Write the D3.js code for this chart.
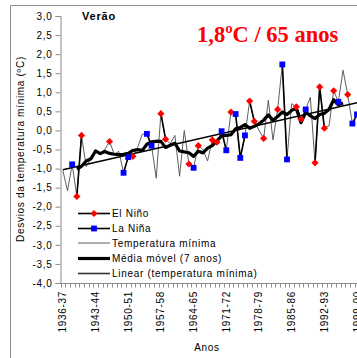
<!DOCTYPE html>
<html>
<head>
<meta charset="utf-8">
<script src="https://cdnjs.cloudflare.com/ajax/libs/d3/7.8.5/d3.min.js"></script>
<style>
    body { margin: 0; overflow: hidden; background: #fff; }
    svg  { display: block; font-family: Arial, "Liberation Sans", sans-serif; }
    .xl  { font-size: 10px; letter-spacing: 0.7px; fill: #000; }
</style>
</head>
<body>
<div id="chart"></div>
<script>
'use strict';

// summer seasons 1936-37 .. 1999-00
var startYears = d3.range(1936, 2000);
var seasons = startYears.map(function (y) {
    return y + '-' + String((y + 1) % 100).padStart(2, '0');
});

// deviations of the summer minimum temperature (ºC)
var tmin = [
    -1.05, -1.58, -0.89, -1.73, -0.13, -0.95, -0.75, -0.55, -0.60, -0.50,
    -0.29, -0.62, -0.55, -1.11, -0.70, -0.68, -0.45, -0.10, -0.09, -0.40,
    -1.25,  0.44, -0.23, -0.35, -0.13, -1.20,  0.00, -0.88, -0.98, -0.40,
    -0.50, -0.80, -0.25, -0.31, -0.02, -0.52,  0.48,  0.43, -0.72, -0.13,
     0.77,  0.24,  0.00, -0.21,  0.79, -0.25,  0.55,  1.73, -0.76,  0.70,
     0.62,  0.30,  0.55,  0.87, -0.85,  1.14,  0.06,  0.12,  1.04,  0.75,
     1.58,  0.94,  0.18,  0.42
];

var elNino = [1939, 1940, 1946, 1951, 1957, 1958, 1963, 1965, 1968, 1969, 1972,
              1976, 1977, 1979, 1982, 1986, 1987, 1990, 1991, 1992, 1994, 1997];
var laNina = [1938, 1949, 1950, 1954, 1955, 1964, 1970, 1971, 1973, 1974, 1975,
              1983, 1984, 1988, 1995, 1998, 1999];

var yTicks = d3.range(-4, 3.01, 0.5);
var maWindow = 7;

var legendItems = ['El Niño', 'La Niña', 'Temperatura mínima', 'Média móvel (7 anos)', 'Linear (temperatura mínima)'];

var width = 357,
    height = 358,
    plot = { left: 60, top: 16, bottom: 283, step: 4.67 };

var rows = tmin.map(function (v, i) {
    return { season: seasons[i], year: startYears[i], i: i, value: v };
});

var svg = d3.select('#chart').append('svg')
            .attr('width', width)
            .attr('height', height);

var x = d3.scaleBand()
          .domain(seasons)
          .range([plot.left + 0.5, plot.left + 0.5 + seasons.length * plot.step]);

var y = d3.scaleLinear()
          .domain([-4, 3])
          .range([plot.bottom, plot.top]);

function cx(d) { return x(d.season) + x.bandwidth() / 2; }

var fmt = d3.formatLocale({ decimal: ',', thousands: '.', grouping: [3], currency: ['', ''], minus: '-' }).format('.1f');

// outer frame
svg.append('path')
   .attr('d', 'M10.5,' + height + 'V5.5H' + width)
   .attr('fill', 'none')
   .attr('stroke', '#8c8c8c');

// y axis
var yAxis = svg.append('g')
               .attr('transform', 'translate(' + (plot.left + 0.5) + ',0)')
               .call(d3.axisLeft(y).tickValues(yTicks).tickSize(5).tickPadding(3).tickFormat(fmt));
yAxis.selectAll('path, line').attr('stroke', '#8c8c8c');
yAxis.selectAll('text').attr('class', 'xl').attr('font-family', null).attr('font-size', null);

// x axis: line, a tick between every season, a label every 7 seasons
var xg = svg.append('g');
xg.append('line')
  .attr('x1', plot.left + 0.5).attr('x2', width + 5)
  .attr('y1', plot.bottom + 0.5).attr('y2', plot.bottom + 0.5)
  .attr('stroke', '#8c8c8c');
xg.selectAll('line.tick')
  .data(seasons)
  .enter().append('line')
  .attr('class', 'tick')
  .attr('x1', function (s) { return Math.round(x(s)) + 0.5; })
  .attr('x2', function (s) { return Math.round(x(s)) + 0.5; })
  .attr('y1', plot.bottom)
  .attr('y2', plot.bottom + 4.5)
  .attr('stroke', '#8c8c8c');
xg.selectAll('text')
  .data(seasons.filter(function (s, i) { return i % 7 === 0; }))
  .enter().append('text')
  .attr('class', 'xl')
  .attr('letter-spacing', '0.3px')
  .attr('text-anchor', 'end')
  .attr('dy', '0.35em')
  .attr('transform', function (s) { return 'translate(' + (x(s) + x.bandwidth() / 2) + ',' + (plot.bottom + 8) + ') rotate(-90)'; })
  .text(function (s) { return s; });

// axis titles
svg.append('text')
   .attr('class', 'xl')
   .attr('text-anchor', 'middle')
   .attr('transform', 'translate(24,149) rotate(-90)')
   .text('Desvios da temperatura mínima (ºC)');

svg.append('text')
   .attr('class', 'xl')
   .attr('letter-spacing', '1.2px')
   .attr('text-anchor', 'middle')
   .attr('x', 207).attr('y', 351)
   .text('Anos');

// titles inside the plot
svg.append('text')
   .attr('x', 82).attr('y', 20)
   .attr('font-size', '11px')
   .attr('font-weight', 'bold')
   .attr('letter-spacing', '0.8px')
   .text('Verão');

svg.append('text')
   .attr('x', 197).attr('y', 42)
   .attr('font-family', '"Liberation Serif", "Times New Roman", serif')
   .attr('font-size', '22.5px')
   .attr('font-weight', 'bold')
   .attr('fill', '#ff0000')
   .text('1,8ºC / 65 anos');

// series
var g = svg.append('g');

var line = d3.line()
             .x(cx)
             .y(function (d) { return y(d.value); });

g.append('path')
 .datum(rows)
 .attr('d', line)
 .attr('fill', 'none')
 .attr('stroke', '#4d4d4d')
 .attr('stroke-width', 0.9);

// centred moving average
var half = Math.floor(maWindow / 2);
var ma = rows.slice(half, rows.length - half).map(function (d) {
    return {
        season: d.season,
        value: d3.mean(tmin.slice(d.i - half, d.i + half + 1))
    };
});

g.append('path')
 .datum(ma)
 .attr('d', line)
 .attr('fill', 'none')
 .attr('stroke', '#000')
 .attr('stroke-width', 3.2)
 .attr('stroke-linejoin', 'round');

// linear trend (least squares)
var mx = d3.mean(rows, function (d) { return d.i; }),
    my = d3.mean(tmin),
    slope = d3.sum(rows, function (d) { return (d.i - mx) * (d.value - my); }) /
            d3.sum(rows, function (d) { return (d.i - mx) * (d.i - mx); }),
    intercept = my - slope * mx;

var trend = [rows[0], rows[rows.length - 1]].map(function (d) {
    return { season: d.season, value: intercept + slope * d.i };
});

g.append('path')
 .datum(trend)
 .attr('d', line)
 .attr('fill', 'none')
 .attr('stroke', '#000')
 .attr('stroke-width', 1.4);

function ensoSeries(years, color, symbol, size, rotate) {
    var inSet = function (d) { return years.indexOf(d.year) >= 0; };

    g.append('path')
     .datum(rows)
     .attr('d', d3.line().defined(inSet).x(cx).y(function (d) { return y(d.value); }))
     .attr('fill', 'none')
     .attr('stroke', '#000')
     .attr('stroke-width', 1.6);

    g.selectAll(null)
     .data(rows.filter(inSet))
     .enter().append('path')
     .attr('d', d3.symbol().type(symbol).size(size))
     .attr('transform', function (d) { return 'translate(' + cx(d) + ',' + y(d.value) + ') rotate(' + rotate + ')'; })
     .attr('fill', color);
}

ensoSeries(elNino, '#ff0000', d3.symbolSquare, 26, 45);
ensoSeries(laNina, '#0000ff', d3.symbolSquare, 34, 0);

// legend
var legendStyles = [
    { stroke: '#000', width: 1.6, marker: 'diamond' },
    { stroke: '#000', width: 1.6, marker: 'square' },
    { stroke: '#4d4d4d', width: 0.9 },
    { stroke: '#000', width: 3.2 },
    { stroke: '#333', width: 1.6 }
];
var legendY = [213.5, 228.5, 243, 258.5, 273.5];

var legend = svg.append('g').selectAll('g')
                .data(legendItems)
                .enter().append('g')
                .attr('transform', function (d, i) { return 'translate(78,' + legendY[i] + ')'; });

legend.append('line')
      .attr('x1', 0).attr('x2', 32)
      .attr('stroke', function (d, i) { return legendStyles[i].stroke; })
      .attr('stroke-width', function (d, i) { return legendStyles[i].width; });

legend.filter(function (d, i) { return legendStyles[i].marker; })
      .append('path')
      .attr('d', function (d, i) {
          return d3.symbol().type(d3.symbolSquare).size(legendStyles[i].marker === 'diamond' ? 26 : 34)();
      })
      .attr('transform', function (d, i) { return 'translate(16,0) rotate(' + (legendStyles[i].marker === 'diamond' ? 45 : 0) + ')'; })
      .attr('fill', function (d, i) { return legendStyles[i].marker === 'diamond' ? '#ff0000' : '#0000ff'; });

legend.append('text')
      .attr('class', 'xl')
      .attr('x', 34)
      .attr('dy', '0.35em')
      .text(function (d) { return d; });
</script>
</body>
</html>
